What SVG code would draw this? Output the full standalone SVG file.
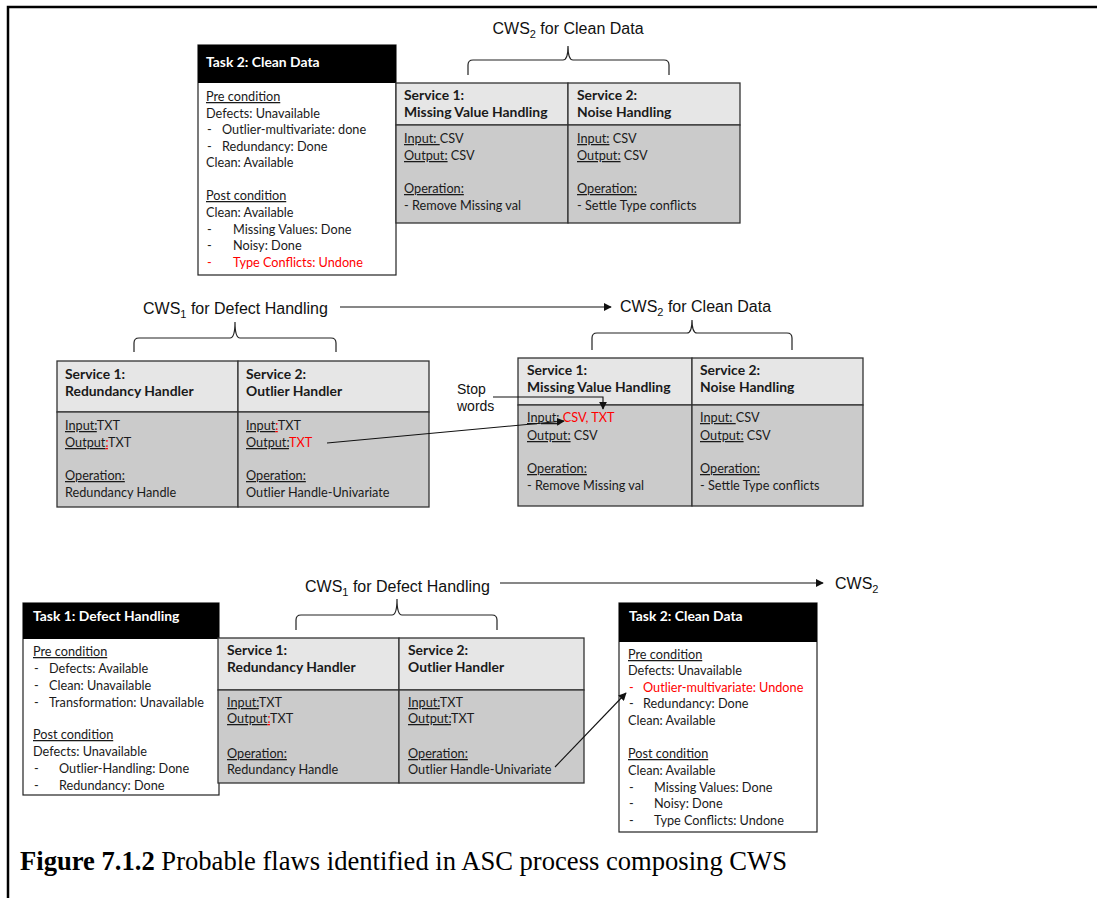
<svg xmlns="http://www.w3.org/2000/svg" width="1097" height="898" viewBox="0 0 1097 898">
  <style>
    text { font-family: Lato, "Noto Sans", "Liberation Sans", sans-serif; font-size: 12.7px; fill: #1a1a1a; }
    .b { font-weight: bold; font-size: 13.9px; }
    .w { fill: #ffffff; font-weight: bold; font-size: 13.9px; }
    .u { text-decoration: underline; }
    .r { fill: #ff0000; }
    .lbl { font-family: "Liberation Sans", Arial, sans-serif; font-size: 16px; fill: #111; }
    .sw { font-family: "Liberation Sans", Arial, sans-serif; font-size: 14px; fill: #111; }
    .cap { font-family: "Liberation Serif", "Times New Roman", serif; font-size: 26.6px; fill: #000; }
    .task { fill: #ffffff; stroke: #222; stroke-width: 1.2; }
    .head { fill: #000000; }
    .svh { fill: #e6e6e6; stroke: #333; stroke-width: 1.3; }
    .svb { fill: #cbcbcb; stroke: #333; stroke-width: 1.3; }
    .brace { fill: none; stroke: #222; stroke-width: 1.2; }
    .conn { fill: none; stroke: #111; stroke-width: 1.1; }
  </style>
  <defs>
    <marker id="arr" viewBox="0 0 10 10" refX="9" refY="5" markerWidth="8" markerHeight="8" markerUnits="userSpaceOnUse" orient="auto">
      <path d="M0,0 L10,5 L0,10 z" fill="#111"/>
    </marker>
  </defs>

  <!-- page frame -->
  <path d="M8,898 V7 H1097" fill="none" stroke="#000" stroke-width="2.5"/>

  <!-- ===== top: task 2 and its composite service ===== -->
  <g id="task2-top">
    <rect class="task" x="198" y="45" width="198" height="230"/>
    <rect class="head" x="198" y="45" width="198" height="38"/>
    <text class="w" x="206" y="67">Task 2: Clean Data</text>
    <text class="u" x="206" y="101">Pre condition</text>
    <text x="206" y="118">Defects:  Unavailable</text>
    <text x="207" y="134">-</text><text x="222" y="134">Outlier-multivariate: done</text>
    <text x="207" y="151">-</text><text x="222" y="151">Redundancy: Done</text>
    <text x="206" y="167">Clean: Available</text>
    <text class="u" x="206" y="200">Post condition</text>
    <text x="206" y="217">Clean:  Available</text>
    <text x="207" y="234">-</text><text x="233" y="234">Missing Values: Done</text>
    <text x="207" y="250">-</text><text x="233" y="250">Noisy: Done</text>
    <text class="r" x="207" y="267">-</text><text class="r" x="233" y="267">Type Conflicts: Undone</text>
  </g>

  <g id="cws2-top">
    <path class="brace" d="M468,75 V65 Q468,60 473,60 H563 Q568,60 568,46 Q568,60 573,60 H664 Q669,60 669,65 V75"/>
    <text class="lbl" x="568" y="34" text-anchor="middle">CWS<tspan font-size="11" dy="4">2</tspan><tspan dy="-4"> for Clean Data</tspan></text>
    <rect class="svh" x="396" y="83" width="172" height="42"/>
    <rect class="svh" x="568" y="83" width="172" height="42"/>
    <rect class="svb" x="396" y="125" width="172" height="98"/>
    <rect class="svb" x="568" y="125" width="172" height="98"/>
    <text class="b" x="404" y="100">Service 1:</text>
    <text class="b" x="404" y="117">Missing Value Handling</text>
    <text x="404" y="143"><tspan class="u">Input: </tspan>CSV</text>
    <text x="404" y="160"><tspan class="u">Output:</tspan> CSV</text>
    <text class="u" x="404" y="193">Operation:</text>
    <text x="404" y="210">-  Remove Missing val</text>
    <text class="b" x="577" y="100">Service 2:</text>
    <text class="b" x="577" y="117">Noise Handling</text>
    <text x="577" y="143"><tspan class="u">Input:</tspan> CSV</text>
    <text x="577" y="160"><tspan class="u">Output:</tspan> CSV</text>
    <text class="u" x="577" y="193">Operation:</text>
    <text x="577" y="210">-  Settle Type conflicts</text>
  </g>

  <!-- ===== middle: CWS1 feeding CWS2 ===== -->
  <g id="cws1-mid">
    <text class="lbl" x="143" y="314">CWS<tspan font-size="11" dy="4">1</tspan><tspan dy="-4"> for Defect Handling</tspan></text>
    <path class="brace" d="M134,352 V343 Q134,338 139,338 H230 Q235,338 235,322 Q235,338 240,338 H331 Q336,338 336,343 V352"/>
    <rect class="svh" x="57" y="361" width="181" height="51"/>
    <rect class="svh" x="238" y="361" width="191" height="51"/>
    <rect class="svb" x="57" y="412" width="181" height="95"/>
    <rect class="svb" x="238" y="412" width="191" height="95"/>
    <text class="b" x="65" y="379">Service 1:</text>
    <text class="b" x="65" y="396">Redundancy Handler</text>
    <text x="65" y="430"><tspan class="u">Input:</tspan>TXT</text>
    <text x="65" y="447"><tspan class="u">Output</tspan><tspan class="u r">:</tspan>TXT</text>
    <text class="u" x="65" y="480">Operation:</text>
    <text x="65" y="497">Redundancy Handle</text>
    <text class="b" x="246" y="379">Service 2:</text>
    <text class="b" x="246" y="396">Outlier Handler</text>
    <text x="246" y="430"><tspan class="u">Input</tspan><tspan class="u r">:</tspan>TXT</text>
    <text x="246" y="447"><tspan class="u">Output:</tspan><tspan class="r">TXT</tspan></text>
    <text class="u" x="246" y="480">Operation:</text>
    <text x="246" y="497">Outlier Handle-Univariate</text>
  </g>

  <g id="cws2-mid">
    <text class="lbl" x="620" y="312">CWS<tspan font-size="11" dy="4">2</tspan><tspan dy="-4"> for Clean Data</tspan></text>
    <path class="brace" d="M592,350 V338 Q592,333 597,333 H687 Q692,333 692,320 Q692,333 697,333 H787 Q792,333 792,338 V350"/>
    <rect class="svh" x="518" y="358" width="174" height="47"/>
    <rect class="svh" x="692" y="358" width="171" height="47"/>
    <rect class="svb" x="518" y="405" width="174" height="101"/>
    <rect class="svb" x="692" y="405" width="171" height="101"/>
    <text class="b" x="527" y="375">Service 1:</text>
    <text class="b" x="527" y="392">Missing Value Handling</text>
    <text x="527" y="422"><tspan class="u">Input:</tspan> <tspan class="r">CSV, TXT</tspan></text>
    <text x="527" y="440"><tspan class="u">Output:</tspan> CSV</text>
    <text class="u" x="527" y="473">Operation:</text>
    <text x="527" y="490">-  Remove Missing val</text>
    <text class="b" x="700" y="375">Service 2:</text>
    <text class="b" x="700" y="392">Noise Handling</text>
    <text x="700" y="422"><tspan class="u">Input: </tspan>CSV</text>
    <text x="700" y="440"><tspan class="u">Output:</tspan> CSV</text>
    <text class="u" x="700" y="473">Operation:</text>
    <text x="700" y="490">-  Settle Type conflicts</text>
  </g>

  <g id="stop-words">
    <text class="sw" x="457" y="394">Stop</text>
    <text class="sw" x="457" y="411">words</text>
  </g>

  <!-- ===== bottom: task 1, CWS1, task 2 ===== -->
  <g id="task1-bottom">
    <rect class="task" x="23" y="603" width="196" height="192"/>
    <rect class="head" x="23" y="603" width="196" height="36"/>
    <text class="w" x="33" y="621">Task 1: Defect Handling</text>
    <text class="u" x="33" y="656">Pre condition</text>
    <text x="34" y="673">-</text><text x="49" y="673">Defects: Available</text>
    <text x="34" y="690">-</text><text x="49" y="690">Clean: Unavailable</text>
    <text x="34" y="707">-</text><text x="49" y="707">Transformation: Unavailable</text>
    <text class="u" x="33" y="739">Post condition</text>
    <text x="33" y="756">Defects:  Unavailable</text>
    <text x="34" y="773">-</text><text x="59" y="773">Outlier-Handling: Done</text>
    <text x="34" y="790">-</text><text x="59" y="790">Redundancy: Done</text>
  </g>

  <g id="cws1-bottom">
    <text class="lbl" x="305" y="592">CWS<tspan font-size="11" dy="4">1</tspan><tspan dy="-4"> for Defect Handling</tspan></text>
    <path class="brace" d="M296,630 V620 Q296,615 301,615 H392 Q397,615 397,599 Q397,615 402,615 H492 Q497,615 497,620 V630"/>
    <rect class="svh" x="218" y="638" width="181" height="52"/>
    <rect class="svh" x="399" y="638" width="185" height="52"/>
    <rect class="svb" x="218" y="690" width="181" height="93"/>
    <rect class="svb" x="399" y="690" width="185" height="93"/>
    <text class="b" x="227" y="655">Service 1:</text>
    <text class="b" x="227" y="672">Redundancy Handler</text>
    <text x="227" y="707"><tspan class="u">Input:</tspan>TXT</text>
    <text x="227" y="723"><tspan class="u">Output</tspan><tspan class="u r">:</tspan>TXT</text>
    <text class="u" x="227" y="758">Operation:</text>
    <text x="227" y="774">Redundancy Handle</text>
    <text class="b" x="408" y="655">Service 2:</text>
    <text class="b" x="408" y="672">Outlier Handler</text>
    <text x="408" y="707"><tspan class="u">Input:</tspan>TXT</text>
    <text x="408" y="723"><tspan class="u">Output:</tspan>TXT</text>
    <text class="u" x="408" y="758">Operation:</text>
    <text x="408" y="774">Outlier Handle-Univariate</text>
  </g>

  <g id="cws2-bottom">
    <text class="lbl" x="835" y="589">CWS<tspan font-size="11" dy="4">2</tspan></text>
  </g>

  <g id="task2-bottom">
    <rect class="task" x="619" y="603" width="198" height="229"/>
    <rect class="head" x="619" y="603" width="198" height="39"/>
    <text class="w" x="629" y="621">Task 2: Clean Data</text>
    <text class="u" x="628" y="659">Pre condition</text>
    <text x="628" y="675">Defects:  Unavailable</text>
    <text class="r" x="629" y="692">-</text><text class="r" x="643" y="692">Outlier-multivariate: Undone</text>
    <text x="629" y="708">-</text><text x="643" y="708">Redundancy: Done</text>
    <text x="628" y="725">Clean: Available</text>
    <text class="u" x="628" y="758">Post condition</text>
    <text x="628" y="775">Clean:  Available</text>
    <text x="629" y="792">-</text><text x="654" y="792">Missing Values: Done</text>
    <text x="629" y="808">-</text><text x="654" y="808">Noisy: Done</text>
    <text x="629" y="825">-</text><text x="654" y="825">Type Conflicts: Undone</text>
  </g>

  <!-- connectors -->
  <g id="connectors">
    <line class="conn" x1="340" y1="307" x2="611" y2="307" marker-end="url(#arr)"/>
    <line class="conn" x1="327" y1="443" x2="564" y2="421" marker-end="url(#arr)"/>
    <path class="conn" d="M493,397 H603 V409" marker-end="url(#arr)"/>
    <line class="conn" x1="500" y1="583" x2="823" y2="583" marker-end="url(#arr)"/>
    <line class="conn" x1="555" y1="767" x2="626" y2="693" marker-end="url(#arr)"/>
  </g>

  <!-- caption -->
  <text class="cap" x="20" y="870"><tspan font-weight="bold">Figure 7.1.2</tspan> Probable flaws identified in ASC process composing CWS</text>
</svg>
